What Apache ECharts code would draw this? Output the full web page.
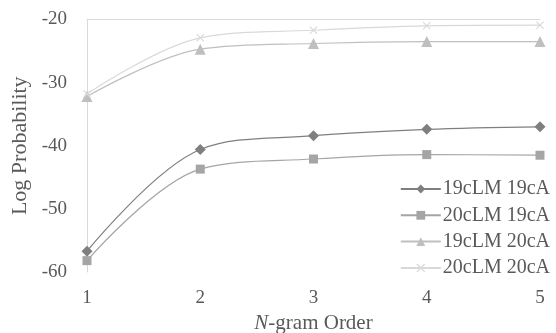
<!DOCTYPE html>
<html>
<head>
<meta charset="utf-8">
<script src="https://cdn.jsdelivr.net/npm/echarts@6/dist/echarts.min.js"></script>
<style>
  html, body { margin: 0; padding: 0; background: #fff; }
  #chart { width: 556px; height: 333px; }
</style>
</head>
<body>
<div id="chart"></div>
<script>
// n-gram orders
var orders = ['1', '2', '3', '4', '5']

// log probabilities
var lm19ca19 = [-56.7, -40.6, -38.4, -37.4, -37.0]
var lm20ca19 = [-58.2, -43.7, -42.1, -41.4, -41.5]
var lm19ca20 = [-32.2, -24.7, -23.8, -23.5, -23.5]
var lm20ca20 = [-31.8, -22.9, -21.7, -21.0, -20.9]

var names = ['19cLM 19cA', '20cLM 19cA', '19cLM 20cA', '20cLM 20cA']
var yTicks = [-60, -50, -40, -30, -20]

var font = '"Liberation Serif", "DejaVu Serif", serif'
var textColor = '#595959'
var crossPath = 'path://M0,1L1,0L5,4L9,0L10,1L6,5L10,9L9,10L5,6L1,10L0,9L4,5Z'

function line(name, data, color, symbol, size) {
  return {
    name: name,
    type: 'line',
    data: data,
    smooth: 0.35,
    symbol: symbol,
    symbolSize: size,
    lineStyle: { color: color, width: 1.2 },
    itemStyle: { color: color },
    z: 3
  }
}

var myChart = echarts.init(document.getElementById('chart'))

var option = {
  animation: false,
  textStyle: { fontFamily: font },
  grid: { left: 87, right: 16, top: 19.5, bottom: 61, outerBoundsMode: 'none' },
  legend: {
    orient: 'vertical',
    right: 1,
    top: 174,
    itemGap: 6.3,
    itemWidth: 40,
    itemHeight: 11,
    textStyle: { fontFamily: font, fontSize: 20, color: textColor, padding: [0, 0, 0, -3] },
    data: names
  },
  xAxis: [{
    type: 'category',
    data: orders,
    boundaryGap: false,
    axisLine: { show: false },
    axisTick: { show: false },
    axisLabel: { fontFamily: font, fontSize: 19, color: textColor, margin: 17 },
    splitLine: { show: false },
    name: '{i|N}-gram Order',
    nameLocation: 'middle',
    nameGap: 39,
    nameTextStyle: {
      fontFamily: font, fontSize: 21, color: textColor,
      rich: { i: { fontFamily: font, fontSize: 21, fontStyle: 'italic', color: textColor } }
    }
  }, {
    type: 'category',
    data: orders,
    position: 'top',
    boundaryGap: false,
    axisLine: { show: true, lineStyle: { color: '#d9d9d9', width: 1 } },
    axisTick: { show: false },
    axisLabel: { show: false }
  }],
  yAxis: {
    type: 'value',
    min: yTicks[0],
    max: yTicks[yTicks.length - 1],
    interval: 10,
    axisLine: { show: true, lineStyle: { color: '#d9d9d9', width: 1 } },
    axisTick: { show: false },
    splitLine: { show: false },
    axisLabel: { fontFamily: font, fontSize: 19, color: textColor, margin: 20 },
    name: 'Log Probability',
    nameLocation: 'middle',
    nameGap: 52,
    nameTextStyle: { fontFamily: font, fontSize: 22, color: textColor }
  },
  series: [
    line(names[0], lm19ca19, '#7f7f7f', 'diamond', 11),
    line(names[1], lm20ca19, '#a5a5a5', 'rect', 9),
    line(names[2], lm19ca20, '#bfbfbf', 'triangle', 11),
    line(names[3], lm20ca20, '#d9d9d9', crossPath, 8)
  ]
}

myChart.setOption(option)
</script>
</body>
</html>
